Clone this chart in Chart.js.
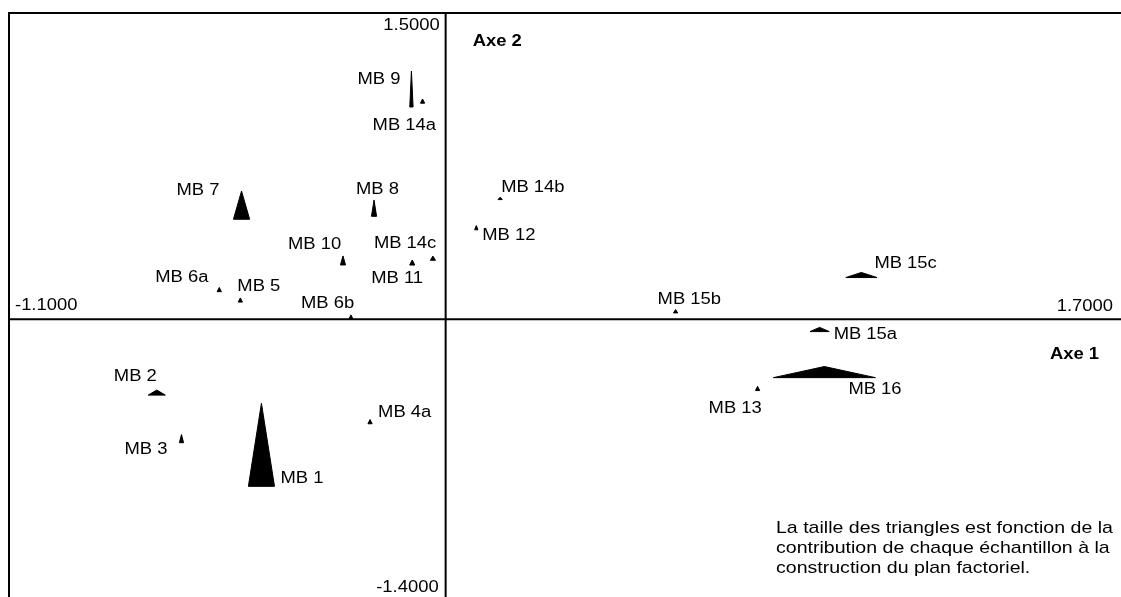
<!DOCTYPE html>
<html>
<head>
<meta charset="utf-8">
<script src="https://cdn.jsdelivr.net/npm/chart.js@4.4.0/dist/chart.umd.min.js"></script>
<style>
  html, body { margin: 0; padding: 0; background: #fff; overflow: hidden; }
  #wrap { width: 1121px; height: 597px; overflow: hidden; }
</style>
</head>
<body>
<div id="wrap"><canvas id="plan" width="1124" height="608"></canvas></div>
<script>
// echantillons + coordonnees sur les axes 1 et 2
var samples = ['MB 1', 'MB 2', 'MB 3', 'MB 4a', 'MB 5', 'MB 6a', 'MB 6b', 'MB 7', 'MB 8', 'MB 9', 'MB 10',
    'MB 11', 'MB 12', 'MB 13', 'MB 14a', 'MB 14b', 'MB 14c', 'MB 15a', 'MB 15b', 'MB 15c', 'MB 16'];
var axe1 = [-0.463, -0.726, -0.664, -0.190, -0.516, -0.569, -0.238, -0.513, -0.180, -0.086, -0.258,
    -0.084, 0.077, 0.784, -0.058, 0.137, -0.032, 0.940, 0.578, 1.045, 0.952];
var axe2 = [-0.613, -0.358, -0.583, -0.500, 0.094, 0.145, 0.011, 0.557, 0.542, 1.124, 0.287,
    0.277, 0.447, -0.338, 1.065, 0.590, 0.298, -0.050, 0.039, 0.216, -0.258];
// contributions (taille des triangles) : axe 1 -> largeur, axe 2 -> hauteur
var ctr1 = [8.7, 5.7, 1.4, 1.4, 1.4, 1.4, 1.4, 5.4, 1.7, 1.1, 1.7,
    1.7, 1.1, 1.4, 1.4, 1.4, 1.7, 6.4, 1.4, 10.4, 34.0];
var ctr2 = [27.7, 1.7, 2.7, 1.4, 1.4, 1.4, 1.4, 9.4, 5.4, 12.0, 3.0,
    1.7, 1.4, 1.4, 1.4, 0.8, 1.4, 1.4, 1.1, 1.7, 3.7];
var xRange = [-1.1, 1.7];
var yRange = [-1.4, 1.5];
var xTickLabels = ['-1.1000', '1.7000'];
var yTickLabels = ['-1.4000', '1.5000'];
var note = ['La taille des triangles est fonction de la',
    'contribution de chaque \u00e9chantillon \u00e0 la',
    'construction du plan factoriel.'];

// placement des etiquettes (decalage en px par rapport au triangle)
var labelOffsets = [[19, 34], [-43, -16], [-57, 11], [8, -9], [-3, -13], [-64, -12], [-50, -13], [-65, -15],
    [-18, -19], [-54, -9], [-55, -16], [-41, 16], [6, 8], [-49, 20], [-50, 24], [1, -11], [-59, -15],
    [14, 5], [-18, -12], [13, -11], [24, 18]];

var PX = 3;       // px par unite de contribution
var STRETCH = 1.15;
var FONT = '"Liberation Sans", Arial, sans-serif';

var points = samples.map(function (s, i) {
    return { x: axe1[i], y: axe2[i] };
});

function stretchText(ctx, txt, x, y, align, font) {
    ctx.save();
    ctx.font = font;
    ctx.textAlign = align;
    ctx.textBaseline = 'middle';
    ctx.translate(x, y);
    ctx.scale(STRETCH, 1);
    ctx.fillText(txt, 0, 0);
    ctx.restore();
}

var planPlugin = {
    id: 'plan',
    beforeDatasetsDraw: function (chart) {
        var ctx = chart.ctx;
        var a = chart.chartArea;
        var x0 = chart.scales.x.getPixelForValue(0);
        var y0 = chart.scales.y.getPixelForValue(0);
        ctx.save();
        ctx.strokeStyle = '#000';
        ctx.lineWidth = 2;
        ctx.strokeRect(a.left + 1, a.top + 1, a.right - a.left, a.bottom - a.top);
        ctx.beginPath();
        ctx.moveTo(a.left, y0);
        ctx.lineTo(a.right, y0);
        ctx.moveTo(x0, a.top);
        ctx.lineTo(x0, a.bottom);
        ctx.stroke();
        ctx.restore();
    },
    afterDatasetsDraw: function (chart) {
        var ctx = chart.ctx;
        var a = chart.chartArea;
        var sx = chart.scales.x;
        var sy = chart.scales.y;
        var x0 = sx.getPixelForValue(0);
        var y0 = sy.getPixelForValue(0);
        var meta = chart.getDatasetMeta(0);
        ctx.save();
        ctx.fillStyle = '#000';
        ctx.strokeStyle = '#000';
        ctx.lineWidth = 1;
        ctx.lineJoin = 'miter';
        meta.data.forEach(function (el, i) {
            var w = ctr1[i] * PX;
            var h = ctr2[i] * PX;
            ctx.beginPath();
            ctx.moveTo(el.x - w / 2, el.y + h / 2);
            ctx.lineTo(el.x + w / 2, el.y + h / 2);
            ctx.lineTo(el.x, el.y - h / 2);
            ctx.closePath();
            ctx.fill();
            ctx.stroke();
            stretchText(ctx, samples[i], el.x + labelOffsets[i][0], el.y + labelOffsets[i][1], 'left', '16px ' + FONT);
        });

        // bornes des axes
        stretchText(ctx, yTickLabels[1], x0 - 6, sy.getPixelForValue(yRange[1]) + 14, 'right', '16px ' + FONT);
        stretchText(ctx, yTickLabels[0], x0 - 7, sy.getPixelForValue(yRange[0]) - 18, 'right', '16px ' + FONT);
        stretchText(ctx, xTickLabels[0], sx.getPixelForValue(xRange[0]) + 7, y0 - 14, 'left', '16px ' + FONT);
        stretchText(ctx, xTickLabels[1], sx.getPixelForValue(xRange[1]) - 9, y0 - 13, 'right', '16px ' + FONT);

        stretchText(ctx, 'Axe 2', x0 + 27, a.top + 30, 'left', 'bold 16px ' + FONT);
        stretchText(ctx, 'Axe 1', a.right - 23, y0 + 35, 'right', 'bold 16px ' + FONT);

        note.forEach(function (line, k) {
            stretchText(ctx, line, a.right - 346, a.bottom - 78 + k * 20, 'left', '17px ' + FONT);
        });
        ctx.restore();
    }
};

var ctx = document.getElementById('plan');
var myChart = new Chart(ctx, {
    type: 'scatter',
    data: {
        datasets: [{
            label: 'Echantillons',
            data: points,
            pointRadius: 0,
            pointHoverRadius: 0
        }]
    },
    options: {
        responsive: false,
        animation: false,
        devicePixelRatio: 1,
        layout: { padding: { left: 8, top: 12, right: 2, bottom: 2 } },
        plugins: { legend: { display: false }, tooltip: { enabled: false } },
        scales: {
            x: { type: 'linear', min: xRange[0], max: xRange[1], display: false },
            y: { type: 'linear', min: yRange[0], max: yRange[1], display: false }
        }
    },
    plugins: [planPlugin]
});
</script>
</body>
</html>
